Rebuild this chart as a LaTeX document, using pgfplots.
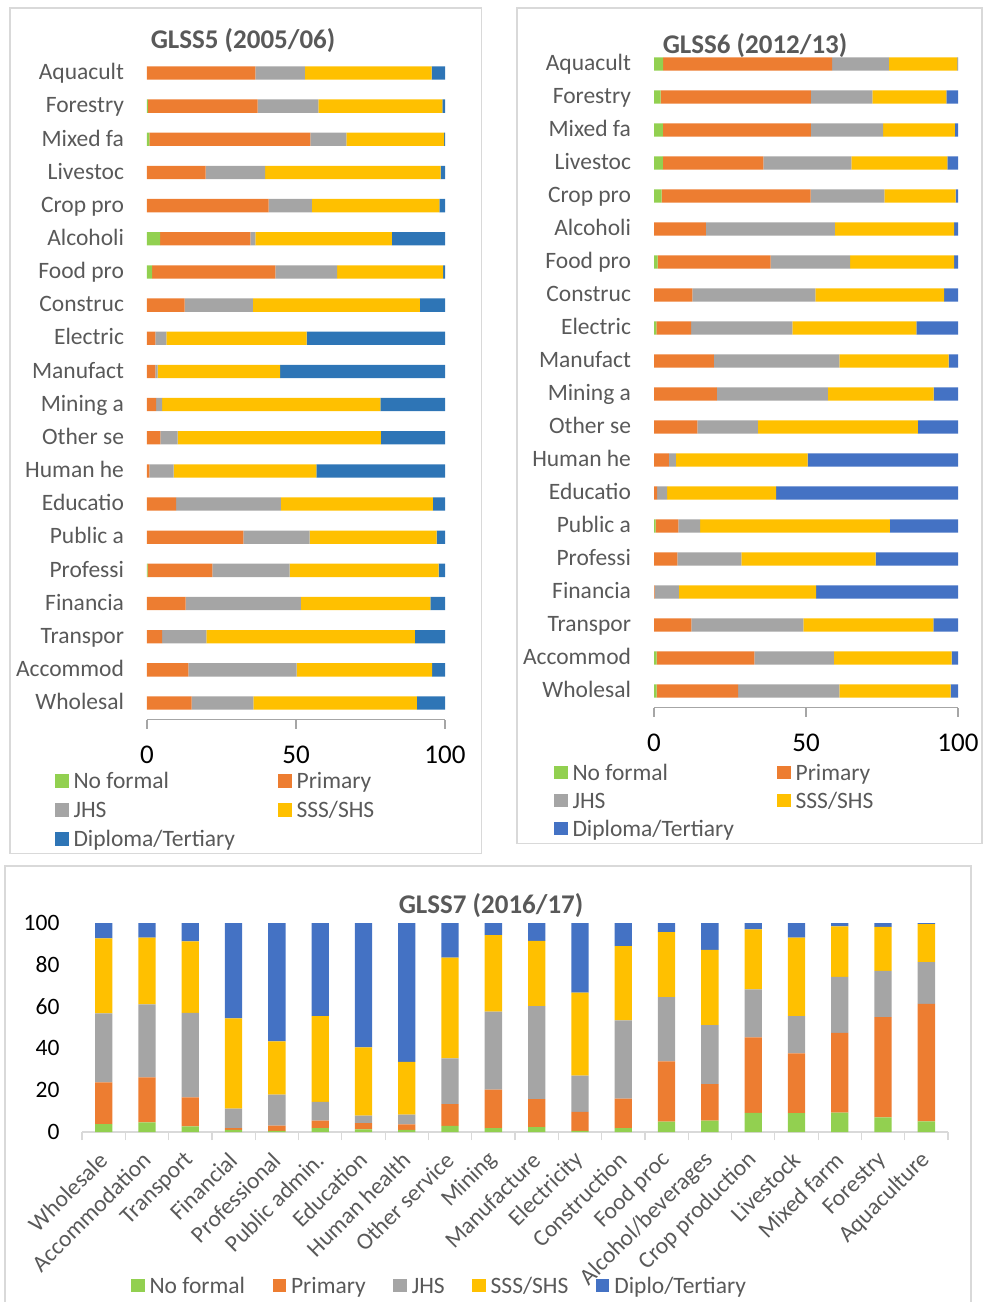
\documentclass[border=0pt]{standalone}
\usepackage{fontspec}
\setmainfont{Carlito}
\usepackage{pgfplots}
\usepackage{pgfplotstable}
\pgfplotsset{compat=1.18}

\definecolor{cNF}{HTML}{92D050}
\definecolor{cPR}{HTML}{ED7D31}
\definecolor{cJH}{HTML}{A5A5A5}
\definecolor{cSS}{HTML}{FFC000}
\definecolor{cDPa}{HTML}{2E75B6}
\definecolor{cDPb}{HTML}{4472C4}
\definecolor{labgray}{HTML}{595959}
\definecolor{axgray}{HTML}{A6A6A6}
\definecolor{framegray}{HTML}{D9D9D9}

\newcommand\catfont{\fontsize{23.5}{28}\selectfont}
\newcommand\tickfont{\fontsize{27}{32}\selectfont}
\newcommand\titlefont{\fontsize{27}{32}\selectfont\bfseries}

% Shares (%) of workers by education level, per sector; pos 19 = top row
\pgfplotstableread[col sep=comma]{
pos,nf,pr,jhs,sss,dip
19,0,36.4,16.6,42.5,4.5
18,0.3,36.8,20.4,41.6,0.9
17,0.8,54.0,12.1,32.8,0.3
16,0,19.7,19.9,58.9,1.5
15,0,40.8,14.5,42.8,1.9
14,4.4,30.3,1.7,45.8,17.8
13,1.7,41.4,20.7,35.6,0.6
12,0,12.6,22.9,56.1,8.4
11,0,2.8,3.7,47.1,46.4
10,0,2.8,0.8,41.1,55.3
9,0,3.1,2.0,73.2,21.7
8,0,4.5,5.8,68.2,21.5
7,0,0.8,8.1,47.9,43.2
6,0,9.8,35.1,51.0,4.1
5,0,32.3,22.3,42.6,2.8
4,0.2,21.7,26.0,50.0,2.1
3,0,13.0,38.6,43.5,4.9
2,0,5.1,14.8,70.0,10.1
1,0,13.9,36.3,45.5,4.3
0,0,15.0,20.7,54.9,9.4
}\glssfive

\pgfplotstableread[col sep=comma]{
pos,nf,pr,jhs,sss,dip
19,3.0,55.6,18.7,22.5,0.2
18,2.2,49.4,20.2,24.4,3.8
17,2.9,48.7,23.8,23.6,1.0
16,2.9,33.1,28.9,31.6,3.5
15,2.5,49.0,24.3,23.4,0.8
14,0,17.1,42.4,39.2,1.3
13,1.2,37.2,26.1,34.2,1.3
12,0,12.6,40.5,42.3,4.6
11,0.8,11.4,33.3,40.8,13.7
10,0,19.7,41.3,35.9,3.1
9,0,20.7,36.5,34.8,8.0
8,0,14.3,19.9,52.6,13.2
7,0,4.9,2.3,43.3,49.5
6,0,1.0,3.3,35.9,59.8
5,0.5,7.5,7.2,62.4,22.4
4,0,7.7,21.0,44.2,27.1
3,0,0.2,8.0,45.1,46.7
2,0,12.3,36.8,42.8,8.1
1,0.9,32.1,26.2,38.7,2.1
0,0.9,26.8,33.3,36.6,2.4
}\glsssix

\pgfplotstableread[col sep=comma]{
pos,nf,pr,jhs,sss,dip
0,3.8,20.0,33.0,35.8,7.4
1,4.6,21.6,34.9,31.9,7.0
2,2.7,13.9,40.4,34.2,8.8
3,1.0,0.9,9.3,43.2,45.6
4,0.6,2.4,14.9,25.5,56.6
5,1.9,3.5,9.0,41.1,44.5
6,1.3,2.9,3.6,32.7,59.5
7,1.0,2.7,4.6,25.3,66.4
8,2.9,10.4,21.9,48.3,16.5
9,1.9,18.4,37.3,36.6,5.8
10,2.4,13.3,44.5,31.2,8.6
11,0.5,9.1,17.4,39.7,33.3
12,1.9,14.1,37.4,35.6,11.0
13,5.0,28.8,30.8,31.1,4.3
14,5.4,17.5,28.3,36.0,12.8
15,9.1,36.2,23.0,28.7,3.0
16,9.0,28.6,17.8,37.6,7.0
17,9.3,38.1,26.8,24.2,1.6
18,7.0,48.0,22.1,21.0,1.9
19,5.1,56.2,20.0,18.2,0.5
}\glssseven

\pgfplotsset{
  sqlegend/.style={
    legend image code/.code={\fill[##1] (0pt,-4.1pt) rectangle (13.5pt,9.3pt);},
    legend cell align=left,
    legend style={draw=none, fill=none, inner sep=0pt, outer sep=0pt,
      font=\catfont, text=labgray, row sep=8pt,
      nodes={inner xsep=5pt, inner ysep=0pt, text height=16pt, text depth=5pt},
      /tikz/every even column/.append style={column sep=#1}},
  },
  hpanel/.style={
    xbar stacked, scale only axis, enlargelimits=false,
    xmin=0, xmax=100, ymin=-0.5, ymax=19.5,
    bar width=13.3pt,
    axis x line=bottom, axis y line=left,
    y axis line style={draw=none},
    x axis line style={draw=axgray, line width=1.2pt, -},
    xtick={0,50,100}, ytick={0,...,19},
    yticklabels={Wholesal,Accommod,Transpor,Financia,Professi,Public a,Educatio,Human he,Other se,Mining a,Manufact,Electric,Construc,Food pro,Alcoholi,Crop pro,Livestoc,Mixed fa,Forestry,Aquacult},
    tick align=outside, major tick length=9pt,
    x tick style={draw=axgray, line width=1.2pt},
    y tick style={draw=none},
    /pgf/number format/assume math mode=true,
    xticklabel style={font=\tickfont, text=black, anchor=base, yshift=-34.5pt},
    yticklabel style={font=\catfont, text=labgray, anchor=base east, yshift=-6.7pt, xshift=-10.5pt},
    legend columns=2,
    sqlegend=38pt,
  },
}

\begin{document}
\begin{tikzpicture}
\path[use as bounding box] (0pt,0pt) rectangle (984pt,-1302pt);

% chart frames
\draw[framegray, line width=1.3pt] (10pt,-8pt) rectangle (481.5pt,-853.5pt);
\draw[framegray, line width=1.3pt] (517pt,-8pt) rectangle (982pt,-843.5pt);
\draw[framegray, line width=1.3pt] (5pt,-866pt) rectangle (971pt,-1320pt);

% GLSS5
\begin{axis}[hpanel, at={(147pt,-719.6pt)}, anchor=south west,
    width=298pt, height=663.2pt,
    legend style={at={(-0.3087,-0.0804)}, anchor=north west}]
  \addplot[fill=cNF, draw=none] table[x=nf, y=pos] {\glssfive};
  \addlegendentry{No formal}
  \addplot[fill=cPR, draw=none] table[x=pr, y=pos] {\glssfive};
  \addlegendentry{Primary}
  \addplot[fill=cJH, draw=none] table[x=jhs, y=pos] {\glssfive};
  \addlegendentry{JHS}
  \addplot[fill=cSS, draw=none] table[x=sss, y=pos] {\glssfive};
  \addlegendentry{SSS/SHS}
  \addplot[fill=cDPa, draw=none] table[x=dip, y=pos] {\glssfive};
  \addlegendentry{Diploma/Tertiary}
\end{axis}
\node[anchor=base, font=\titlefont, text=labgray] at (243pt,-48.3pt) {GLSS5 (2005/06)};

% GLSS6
\begin{axis}[hpanel, at={(654pt,-707.5pt)}, anchor=south west,
    width=304pt, height=660pt,
    legend style={at={(-0.3289,-0.0865)}, anchor=north west, row sep=7pt}]
  \addplot[fill=cNF, draw=none] table[x=nf, y=pos] {\glsssix};
  \addlegendentry{No formal}
  \addplot[fill=cPR, draw=none] table[x=pr, y=pos] {\glsssix};
  \addlegendentry{Primary}
  \addplot[fill=cJH, draw=none] table[x=jhs, y=pos] {\glsssix};
  \addlegendentry{JHS}
  \addplot[fill=cSS, draw=none] table[x=sss, y=pos] {\glsssix};
  \addlegendentry{SSS/SHS}
  \addplot[fill=cDPb, draw=none] table[x=dip, y=pos] {\glsssix};
  \addlegendentry{Diploma/Tertiary}
\end{axis}
\node[anchor=base, font=\titlefont, text=labgray] at (755pt,-53pt) {GLSS6 (2012/13)};

% GLSS7
\begin{axis}[ybar stacked, scale only axis, enlargelimits=false,
    at={(82pt,-1132pt)}, anchor=south west, width=866pt, height=209pt,
    xmin=-0.5, xmax=19.5, ymin=0, ymax=100,
    bar width=17.3pt,
    axis x line=bottom, axis y line=left,
    y axis line style={draw=none},
    x axis line style={draw=framegray, line width=1.2pt, -},
    xtick={0,...,19},
    xticklabels={Wholesale,Accommodation,Transport,Financial,Professional,Public admin.,Education,Human health,Other service,Mining,Manufacture,Electricity,Construction,Food proc,Alcohol/beverages,Crop production,Livestock,Mixed farm,Forestry,Aquaculture},
    minor xtick={-0.5,0.5,...,19.5},
    ytick={0,20,...,100},
    tick align=outside, major tick length=0pt, minor tick length=8pt,
    x tick style={draw=framegray, line width=1.2pt},
    y tick style={draw=none},
    /pgf/number format/assume math mode=true,
    xticklabel style={font=\catfont, text=labgray, xshift=2pt, yshift=-22pt, rotate=45, anchor=east},
    yticklabel style={font=\catfont, text=black, anchor=east, xshift=-19pt},
    legend columns=5,
    sqlegend=22.5pt,
    legend style={at={(0.0566,-0.6968)}, anchor=north west}]
  \addplot[fill=cNF, draw=none] table[x=pos, y=nf] {\glssseven};
  \addlegendentry{No formal}
  \addplot[fill=cPR, draw=none] table[x=pos, y=pr] {\glssseven};
  \addlegendentry{Primary}
  \addplot[fill=cJH, draw=none] table[x=pos, y=jhs] {\glssseven};
  \addlegendentry{JHS}
  \addplot[fill=cSS, draw=none] table[x=pos, y=sss] {\glssseven};
  \addlegendentry{SSS/SHS}
  \addplot[fill=cDPb, draw=none] table[x=pos, y=dip] {\glssseven};
  \addlegendentry{Diplo/Tertiary}
\end{axis}
\node[anchor=base, font=\titlefont, text=labgray] at (491pt,-913pt) {GLSS7 (2016/17)};
\end{tikzpicture}
\end{document}
